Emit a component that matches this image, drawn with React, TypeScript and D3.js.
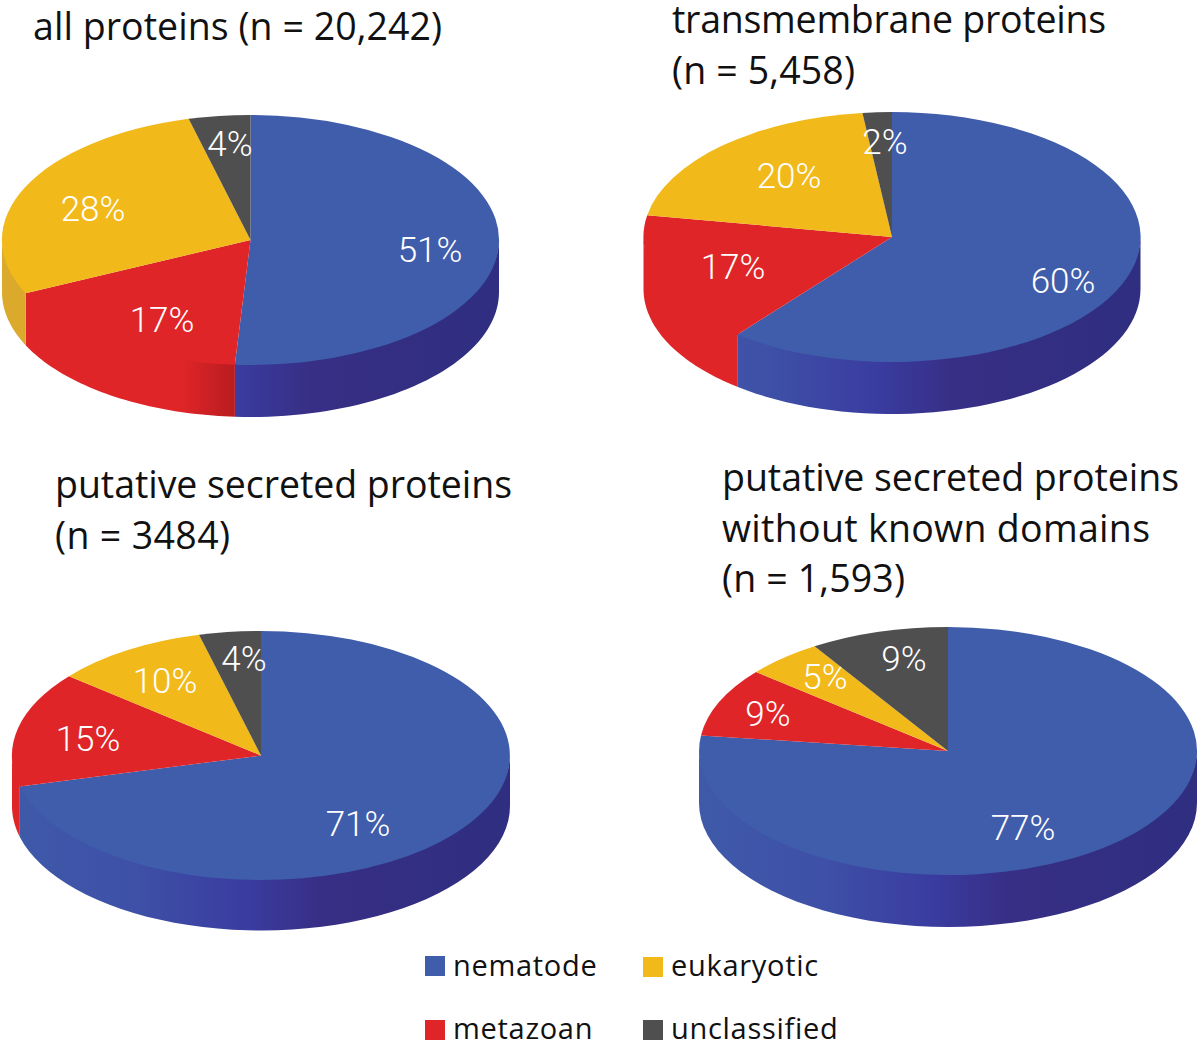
import React from "react";
import * as d3 from "d3";

const categories = ["nematode", "metazoan", "eukaryotic", "unclassified"];
const allProteins = [51, 17, 28, 4];
const transmembrane = [60.7, 17.1, 20.3, 1.9];
const secreted = [71, 15, 10, 4];
const secretedNoDomains = [77, 9, 5, 9];
const allLabels = ["51%", "17%", "28%", "4%"];
const transmembraneLabels = ["60%", "17%", "20%", "2%"];
const secretedLabels = ["71%", "15%", "10%", "4%"];
const noDomainLabels = ["77%", "9%", "5%", "9%"];
const allTitle = ["all proteins (n = 20,242)"];
const transmembraneTitle = ["transmembrane proteins", "(n = 5,458)"];
const secretedTitle = ["putative secreted proteins", "(n = 3484)"];
const noDomainTitle = ["putative secreted proteins", "without known domains", "(n = 1,593)"];

const TOP = ["#3F5DAA", "#E02528", "#F2B91A", "#4F4F4F"];
const FONT_TITLE = "'Open Sans', sans-serif";
const FONT_PCT = "Roboto, sans-serif";

const pies = [
  { id: "a", values: allProteins, labels: allLabels, title: allTitle, cx: 250.5, cy: 240, rx: 248.5, ry: 125, depth: 52,
    tx: 33, ty: [40], tw: [409], lp: [[430, 249], [162, 319], [93, 208], [230, 143]] },
  { id: "b", values: transmembrane, labels: transmembraneLabels, title: transmembraneTitle, cx: 892, cy: 237, rx: 248.5, ry: 125, depth: 52,
    tx: 672, ty: [33, 84], tw: [434, 183], lp: [[1063, 280], [733, 266], [789, 175], [885, 141]] },
  { id: "c", values: secreted, labels: secretedLabels, title: secretedTitle, cx: 261, cy: 755.5, rx: 249, ry: 124.5, depth: 50.5,
    tx: 55, ty: [498, 549], tw: [457, 175], lp: [[358, 823], [88, 738], [165, 680], [244, 658]] },
  { id: "d", values: secretedNoDomains, labels: noDomainLabels, title: noDomainTitle, cx: 948, cy: 751, rx: 249, ry: 124, depth: 52,
    tx: 722, ty: [491, 542, 592], tw: [457, 428, 183], lp: [[1023, 827], [768, 713], [825, 676], [904, 658]] },
];

const legendLayout = [
  { sx: 425, sy: 956, tx: 453, ty: 976 },
  { sx: 425, sy: 1020, tx: 453, ty: 1039 },
  { sx: 643, sy: 957, tx: 671, ty: 976 },
  { sx: 643, sy: 1020, tx: 671, ty: 1039 },
];

const pieGen = d3.pie<number>().sort(null).value((d) => d);
const arcGen = d3.arc<d3.PieArcDatum<number>>().innerRadius(0).outerRadius(1);

function sidePath(a0: number, a1: number, p: (typeof pies)[number]) {
  const s = Math.max(a0, Math.PI / 2);
  const e = Math.min(a1, (3 * Math.PI) / 2);
  if (e <= s) return null;
  const x = (a: number) => p.cx + p.rx * Math.sin(a);
  const y = (a: number) => p.cy - p.ry * Math.cos(a);
  const path = d3.path();
  const n = 48;
  const t = d3.scaleLinear().domain([0, n]).range([s, e]);
  // the upper edge runs 2px up, under the top face, so no pale seam shows along it
  path.moveTo(x(s), y(s) - 2);
  d3.range(1, n + 1).forEach((i) => path.lineTo(x(t(i)), y(t(i)) - 2));
  d3.range(n, -1, -1).forEach((i) => path.lineTo(x(t(i)), y(t(i)) + p.depth));
  path.closePath();
  return path.toString();
}

function Pie({ p }: { p: (typeof pies)[number] }) {
  const arcs = pieGen(p.values);
  const sideFill = [`url(#blue-${p.id})`, `url(#red-${p.id})`, "#DBA92B", "#3C3C3C"];
  return (
    <g>
      <defs>
        <linearGradient id={`blue-${p.id}`} gradientUnits="userSpaceOnUse" x1={p.cx - p.rx} x2={p.cx + p.rx} y1={0} y2={0}>
          <stop offset="0" stopColor="#3F5AA9" />
          <stop offset="0.25" stopColor="#3E50A7" />
          <stop offset="0.47" stopColor="#3A3CA0" />
          <stop offset="0.62" stopColor="#372F85" />
          <stop offset="1" stopColor="#2F2E80" />
        </linearGradient>
        <linearGradient id={`red-${p.id}`} gradientUnits="userSpaceOnUse" x1={p.cx - p.rx} x2={p.cx + p.rx} y1={0} y2={0}>
          <stop offset="0" stopColor="#E02528" />
          <stop offset="0.36" stopColor="#E02528" />
          <stop offset="0.47" stopColor="#B81C20" />
        </linearGradient>
      </defs>
      {arcs.map((a, i) => {
        const d = sidePath(a.startAngle, a.endAngle, p);
        return d ? <path key={i} d={d} fill={sideFill[i]} /> : null;
      })}
      <g transform={`translate(${p.cx},${p.cy}) scale(${p.rx},${p.ry})`}>
        {arcs.map((a, i) => (
          <path key={i} d={arcGen(a) as string} fill={TOP[i]} />
        ))}
      </g>
      {p.labels.map((l, i) => (
        <text key={l + i} x={p.lp[i][0]} y={p.lp[i][1]} dy="0.36em" textAnchor="middle" fill="#fff"
          fontFamily={FONT_PCT} fontWeight={300} fontSize={35}>{l}</text>
      ))}
      {p.title.map((t, i) => (
        <text key={i} x={p.tx} y={p.ty[i]} textLength={p.tw[i]} lengthAdjust="spacing"
          fontFamily={FONT_TITLE} fontSize={37.5} fill="#111">{t}</text>
      ))}
    </g>
  );
}

export default function App() {
  return (
    <svg width={1200} height={1049} viewBox="0 0 1200 1049" style={{ position: "absolute", left: 0, top: 0, background: "#fff" }}>
      {pies.map((p) => <Pie key={p.id} p={p} />)}
      {categories.map((c, i) => (
        <g key={c}>
          <rect x={legendLayout[i].sx} y={legendLayout[i].sy} width={20} height={20} fill={TOP[i]} />
          <text x={legendLayout[i].tx} y={legendLayout[i].ty} fontFamily={FONT_TITLE} fontSize={29} letterSpacing={0.7} fill="#111">{c}</text>
        </g>
      ))}
    </svg>
  );
}
